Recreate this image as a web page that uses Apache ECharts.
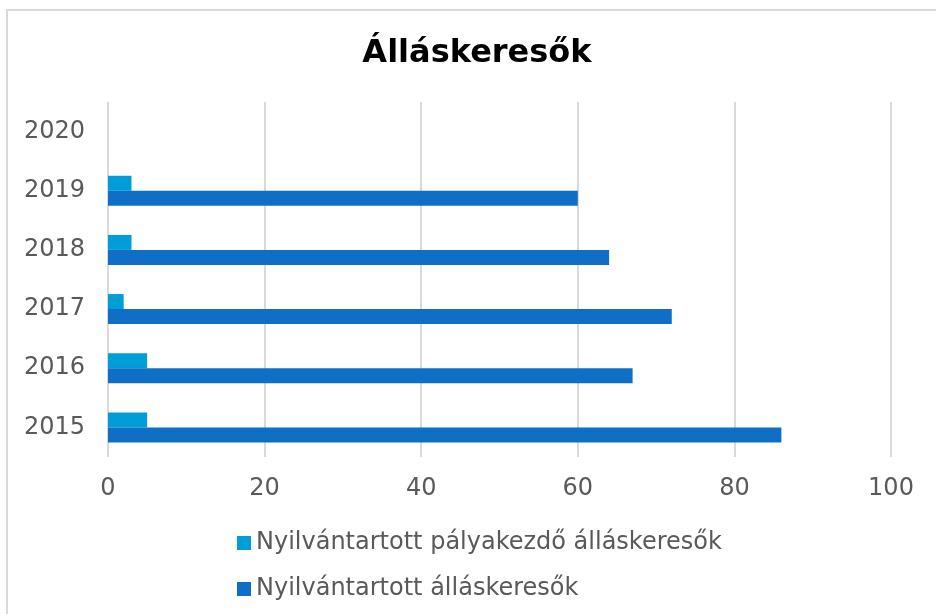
<!DOCTYPE html>
<html>
<head>
<meta charset="utf-8">
<script src="https://cdn.jsdelivr.net/npm/echarts@6/dist/echarts.min.js"></script>
<style>
html,body{margin:0;padding:0;background:#fff;}
#c{width:936px;height:614px;}
</style>
</head>
<body>
<div id="c"></div>
<script>
const categories = ['2015', '2016', '2017', '2018', '2019', '2020'];
const palyakezdo = [5, 5, 2, 3, 3, null];
const osszes = [86, 67, 72, 64, 60, null];
const seriesNames = ['Nyilvántartott pályakezdő álláskeresők', 'Nyilvántartott álláskeresők'];
const xTicks = { min: 0, max: 100, interval: 20 };

const font = 'DejaVu Sans';
const chart = echarts.init(document.getElementById('c'), null, { renderer: 'canvas' });
chart.setOption({
  animation: false,
  backgroundColor: '#fff',
  title: {
    text: 'Álláskeresők',
    left: 472,
    textAlign: 'center',
    top: 33,
    textStyle: { fontFamily: 'DejaVu Sans', fontWeight: 'bold', fontSize: 32, color: '#000' }
  },
  graphic: [{
    type: 'rect',
    shape: { x: 7, y: 10, width: 940, height: 620 },
    style: { fill: 'none', stroke: '#D9D9D9', lineWidth: 2 },
    silent: true
  }],
  legend: {
    orient: 'vertical',
    left: 232,
    top: 526,
    itemWidth: 14,
    itemHeight: 14,
    itemGap: 22,
    itemTextGap: 5,
    icon: 'rect',
    data: seriesNames,
    textStyle: { fontFamily: font, fontSize: 24, color: '#595959' }
  },
  grid: { left: 108, right: 45, top: 102, bottom: 157, containLabel: false },
  xAxis: {
    type: 'value',
    min: xTicks.min, max: xTicks.max, interval: xTicks.interval,
    axisLine: { show: false },
    axisTick: { show: false },
    splitLine: { lineStyle: { color: '#D9D9D9', width: 2 } },
    axisLabel: { fontFamily: font, fontSize: 24, color: '#595959', margin: 20 }
  },
  yAxis: {
    type: 'category',
    data: categories,
    axisLine: { show: false },
    axisTick: { show: false },
    axisLabel: { fontFamily: font, fontSize: 24, color: '#595959', margin: 23 }
  },
  series: [
    {
      name: seriesNames[0], type: 'bar', data: palyakezdo,
      barWidth: 15, barGap: '0%',
      itemStyle: { color: '#009DD9' }
    },
    {
      name: seriesNames[1], type: 'bar', data: osszes,
      barWidth: 15, barGap: '0%',
      itemStyle: { color: '#0F6FC6' }
    }
  ]
});
</script>
</body>
</html>
